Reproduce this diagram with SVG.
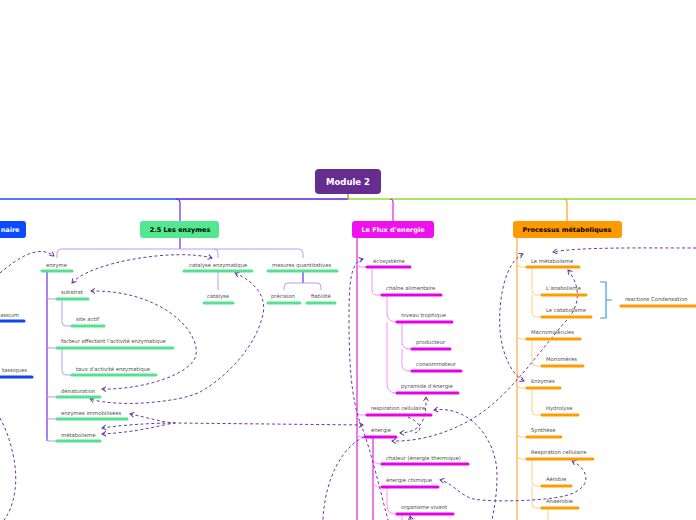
<svg xmlns="http://www.w3.org/2000/svg" width="696" height="520" viewBox="0 0 696 520">
<defs>
<marker id="arr" markerWidth="6" markerHeight="6" refX="4.5" refY="3" orient="auto-start-reverse" markerUnits="userSpaceOnUse">
<path d="M0.5,0.5 L4.5,3 L0.5,5.5" fill="none" stroke="#6a3a9e" stroke-width="1"/>
</marker>
<style>
.lbl{font-family:"DejaVu Sans",Verdana,sans-serif;font-size:5.3px;fill:#4d4d4d}
.nd{font-family:"DejaVu Sans",Verdana,sans-serif;font-size:6.5px;font-weight:bold}
.ug{stroke:#52e38f;stroke-width:3;stroke-linecap:round}
.um{stroke:#e800e8;stroke-width:3;stroke-linecap:round}
.uo{stroke:#ff9c00;stroke-width:3;stroke-linecap:round}
.ub{stroke:#0f45ee;stroke-width:3;stroke-linecap:round}
.lp{fill:none;stroke:#b99cf7;stroke-width:1}
.dp{fill:none;stroke:#7a3de6;stroke-width:1.3}
.lm{fill:none;stroke:#ff8cff;stroke-width:1}
.dm{fill:none;stroke:#e020e0;stroke-width:1.2}
.lo{fill:none;stroke:#ffcf85;stroke-width:1}
.do{fill:none;stroke:#ffac38;stroke-width:1.2}
.dash{fill:none;stroke:#6a3a9e;stroke-width:1;stroke-dasharray:3,2.5}
</style>
</defs>
<rect width="696" height="520" fill="#fff"/>

<g id="connectors">
<line x1="0" y1="199" x2="180" y2="199" stroke="#1a4bff" stroke-width="1.3"/>
<line x1="180" y1="199" x2="348" y2="199" stroke="#5a1ee0" stroke-width="1.3"/>
<line x1="348" y1="199" x2="696" y2="199" stroke="#88e030" stroke-width="1.3"/>
<line x1="348" y1="194" x2="348" y2="199" stroke="#a8a040" stroke-width="1.5"/>
<path d="M176,199 Q180,199 180,203 V221" fill="none" stroke="#6a2be6" stroke-width="1.2"/>
<path d="M390,199 Q393,199 393,202 V221" fill="none" stroke="#e020e0" stroke-width="1.2"/>
<path d="M564,199 Q567,199 567,202 V221" fill="none" stroke="#ffa020" stroke-width="1.2"/>

<path class="dp" d="M180,238 V249"/>
<path class="lp" d="M57,258 V253 Q57,249 61,249 H299 Q303,249 303,253 V258"/>
<path class="lp" d="M214,249 Q218,249 218,253 V258"/>
<path class="dp" d="M47,272 V441"/>
<path class="lp" d="M47,297 Q47,299 50,299 H56 M47,346 Q47,348 50,348 H56 M47,395 Q47,397 50,397 H56 M47,417 Q47,419 50,419 H56 M47,439 Q47,441 50,441 H56"/>
<path class="lp" d="M62,299 V322 Q62,326 66,326 H71 M62,348 V371 Q62,375 66,375 H71"/>
<path class="lp" d="M218,272 V290"/>
<path class="dp" d="M303,272 V283"/>
<path class="lp" d="M284,290 V287 Q284,283 288,283 H317 Q321,283 321,287 V290"/>

<path class="dm" d="M357,238 V520"/>
<path class="lm" d="M357,263 Q357,267 361,267 H366 M357,411 Q357,415 361,415 H366 M357,433 Q357,437 361,437 H366"/>
<path class="lm" d="M372,267 V290 Q372,295 377,295 H381"/>
<path class="lm" d="M387,295 V312 Q387,322 396,322 M387,322 V383 Q387,393 396,393"/>
<path class="lm" d="M402,322 V342 Q402,349 411,349 M402,349 V365 Q402,371 411,371"/>
<path class="dm" d="M373,437 V520"/>
<path class="lm" d="M373,458 Q373,464 381,464 M373,481 Q373,487 381,487"/>
<path class="lm" d="M387,487 V505 Q387,514 396,514"/>
<path class="lm" d="M402,514 V520"/>

<path class="do" d="M517,238 V520"/>
<path class="lo" d="M517,263 Q517,267 521,267 H526 M517,335 Q517,339 521,339 H526 M517,384 Q517,388 521,388 H526 M517,433 Q517,437 521,437 H526 M517,455 Q517,459 521,459 H526"/>
<path class="lo" d="M532,267 V291 Q532,295 536,295 H541 M532,295 V313 Q532,317 536,317 H541"/>
<path class="lo" d="M532,339 V362 Q532,366 536,366 H541"/>
<path class="lo" d="M532,388 V411 Q532,415 536,415 H541"/>
<path class="lo" d="M532,459 V482 Q532,486 536,486 H541 M532,486 V504 Q532,508 536,508 H541"/>
<path class="lo" d="M548,508 V520"/>
<path d="M600,282 H606 V318 H600 M606,300 H612" fill="none" stroke="#3c9cf0" stroke-width="1.2"/>

<path class="dash" d="M0,273 C18,258 38,244 54,256" marker-end="url(#arr)"/>
<path class="dash" d="M72,283 C90,262 175,248 212,258" marker-start="url(#arr)" marker-end="url(#arr)"/>
<path class="dash" d="M91,291 C160,290 200,330 196,355 C192,375 140,390 102,389" marker-start="url(#arr)" marker-end="url(#arr)"/>
<path class="dash" d="M235,273 C258,283 268,300 262,318 C255,345 230,375 200,392 C180,402 120,408 90,399" marker-start="url(#arr)" marker-end="url(#arr)"/>
<path class="dash" d="M130,414 C150,418 160,422 175,423 L363,425" marker-start="url(#arr)" marker-end="url(#arr)"/>
<path class="dash" d="M102,428 C130,424 160,423 175,423" marker-start="url(#arr)"/>
<path class="dash" d="M102,434 C140,432 160,425 175,423" marker-start="url(#arr)"/>
<path class="dash" d="M0,418 C12,440 18,470 15,490 C13,505 8,515 4,520"/>
<path class="dash" d="M363,259 C350,262 349,285 349,320 C349,380 354,410 363,430 C372,455 380,490 388,520" marker-start="url(#arr)"/>
<path class="dash" d="M364,437 C345,445 325,475 323,520"/>
<path class="dash" d="M426,397 C426,415 425,432 400,433" marker-start="url(#arr)" marker-end="url(#arr)"/>
<path class="dash" d="M408,417 C420,422 424,430 415,433"/>
<path class="dash" d="M434,410 C470,405 497,440 497,475 C497,495 494,510 492,520" marker-start="url(#arr)"/>
<path class="dash" d="M568,270 C580,285 582,305 565,322 C545,345 520,380 495,402 C470,425 430,442 392,441" marker-start="url(#arr)" marker-end="url(#arr)"/>
<path class="dash" d="M523,254 C505,262 498,300 500,330 C502,355 512,375 524,381" marker-start="url(#arr)" marker-end="url(#arr)"/>
<path class="dash" d="M696,248 C640,248 580,247 553,252" marker-end="url(#arr)"/>
<path class="dash" d="M572,461 C590,470 595,490 560,497 C530,502 480,502 470,498 C460,494 450,482 440,480" marker-start="url(#arr)" marker-end="url(#arr)"/>
<path class="dash" d="M411,520 L410,516" marker-end="url(#arr)"/>
</g>

<g id="module2"><rect x="315" y="169" width="66" height="25" rx="4" fill="#662d91"/><text x="348" y="185" text-anchor="middle" font-family="DejaVu Sans,sans-serif" font-size="8.5" font-weight="bold" fill="#fff">Module 2</text></g>

<g id="naire"><rect x="-20" y="221" width="46" height="17" rx="3" fill="#0a4bff"/><text class="nd" x="19.5" y="232" text-anchor="end" fill="#fff">naire</text></g>
<g id="assium"><text class="lbl" x="19" y="317" text-anchor="end">assium</text><line class="ub" x1="-2" y1="321" x2="24" y2="321"/></g>
<g id="tassiques"><text class="lbl" x="27" y="372" text-anchor="end">tassiques</text><line class="ub" x1="-2" y1="377" x2="32" y2="377"/></g>

<g id="enzymes"><rect x="140" y="221" width="79" height="17" rx="3" fill="#52e890"/><text class="nd" x="180" y="232" text-anchor="middle" fill="#000">2.5 Les enzymes</text></g>
<g id="enzyme"><text class="lbl" x="46" y="267">enzyme</text><line class="ug" x1="42" y1="271" x2="72" y2="271"/></g>
<g id="catalyse-enz"><text class="lbl" x="189" y="267">catalyse enzymatique</text><line class="ug" x1="184" y1="271" x2="252" y2="271"/></g>
<g id="mesures"><text class="lbl" x="272" y="267">mesures quantitatives</text><line class="ug" x1="268" y1="271" x2="337" y2="271"/></g>
<g id="catalyse"><text class="lbl" x="207" y="298">catalyse</text><line class="ug" x1="204" y1="303" x2="233" y2="303"/></g>
<g id="precision"><text class="lbl" x="271" y="298">précision</text><line class="ug" x1="268" y1="303" x2="300" y2="303"/></g>
<g id="fiabilite"><text class="lbl" x="311" y="298">fiabilité</text><line class="ug" x1="307" y1="303" x2="335" y2="303"/></g>
<g id="substrat"><text class="lbl" x="61" y="294">substrat</text><line class="ug" x1="57" y1="299" x2="88" y2="299"/></g>
<g id="site-actif"><text class="lbl" x="76" y="321">site actif</text><line class="ug" x1="72" y1="326" x2="104" y2="326"/></g>
<g id="facteur"><text class="lbl" x="61" y="343">facteur affectant l'activité enzymatique</text><line class="ug" x1="57" y1="348" x2="173" y2="348"/></g>
<g id="taux"><text class="lbl" x="76" y="371">taux d'activité enzymatique</text><line class="ug" x1="72" y1="375" x2="156" y2="375"/></g>
<g id="denaturation"><text class="lbl" x="61" y="393">dénaturation</text><line class="ug" x1="57" y1="397" x2="100" y2="397"/></g>
<g id="immobilisees"><text class="lbl" x="61" y="415">enzymes immobilisées</text><line class="ug" x1="57" y1="419" x2="127" y2="419"/></g>
<g id="metabolisme-e"><text class="lbl" x="61" y="437">métabolisme</text><line class="ug" x1="57" y1="441" x2="100" y2="441"/></g>

<g id="flux"><rect x="352" y="221" width="82" height="17" rx="3" fill="#ee11ee"/><text class="nd" x="393" y="232" text-anchor="middle" fill="#fff">Le Flux d'energie</text></g>
<g id="ecosysteme"><text class="lbl" x="373" y="263">écosystème</text><line class="um" x1="367" y1="267" x2="410" y2="267"/></g>
<g id="chaine"><text class="lbl" x="386" y="290">chaîne alimentaire</text><line class="um" x1="382" y1="295" x2="441" y2="295"/></g>
<g id="niveau"><text class="lbl" x="401" y="317">niveau trophique</text><line class="um" x1="397" y1="322" x2="452" y2="322"/></g>
<g id="producteur"><text class="lbl" x="416" y="344">producteur</text><line class="um" x1="412" y1="349" x2="450" y2="349"/></g>
<g id="consommateur"><text class="lbl" x="416" y="366">consommateur</text><line class="um" x1="412" y1="371" x2="461" y2="371"/></g>
<g id="pyramide"><text class="lbl" x="401" y="388">pyramide d'énergie</text><line class="um" x1="397" y1="393" x2="458" y2="393"/></g>
<g id="respiration-f"><text class="lbl" x="371" y="410">respiration cellulaire</text><line class="um" x1="367" y1="415" x2="431" y2="415"/></g>
<g id="energie"><text class="lbl" x="371" y="432">énergie</text><line class="um" x1="365" y1="437" x2="396" y2="437"/></g>
<g id="chaleur"><text class="lbl" x="386" y="460">chaleur (énergie thermique)</text><line class="um" x1="382" y1="464" x2="468" y2="464"/></g>
<g id="energie-chimique"><text class="lbl" x="386" y="482">énergie chimique</text><line class="um" x1="382" y1="487" x2="438" y2="487"/></g>
<g id="organisme"><text class="lbl" x="401" y="509">organisme vivant</text><line class="um" x1="397" y1="514" x2="453" y2="514"/></g>

<g id="processus"><rect x="513" y="221" width="109" height="17" rx="3" fill="#ff9900"/><text class="nd" x="567" y="232" text-anchor="middle" fill="#000">Processus métaboliques</text></g>
<g id="le-metabolisme"><text class="lbl" x="531" y="263">Le métabolisme</text><line class="uo" x1="527" y1="267" x2="579" y2="267"/></g>
<g id="anabolisme"><text class="lbl" x="546" y="290">L'anabolisme</text><line class="uo" x1="542" y1="295" x2="586" y2="295"/></g>
<g id="catabolisme"><text class="lbl" x="546" y="312">Le catabolisme</text><line class="uo" x1="542" y1="317" x2="591" y2="317"/></g>
<g id="condensation"><text class="lbl" x="625" y="301">reactions Condensation</text><line class="uo" x1="621" y1="306" x2="697" y2="306"/></g>
<g id="macromolecules"><text class="lbl" x="531" y="334">Macromolécules</text><line class="uo" x1="527" y1="339" x2="580" y2="339"/></g>
<g id="monomeres"><text class="lbl" x="546" y="361">Monomères</text><line class="uo" x1="542" y1="366" x2="583" y2="366"/></g>
<g id="enzymes-p"><text class="lbl" x="531" y="383">Enzymes</text><line class="uo" x1="527" y1="388" x2="560" y2="388"/></g>
<g id="hydrolyse"><text class="lbl" x="546" y="410">Hydrolyse</text><line class="uo" x1="542" y1="415" x2="578" y2="415"/></g>
<g id="synthese"><text class="lbl" x="531" y="432">Synthèse</text><line class="uo" x1="527" y1="437" x2="561" y2="437"/></g>
<g id="respiration-p"><text class="lbl" x="531" y="454">Respiration cellulaire</text><line class="uo" x1="527" y1="459" x2="593" y2="459"/></g>
<g id="aerobie"><text class="lbl" x="546" y="481">Aérobie</text><line class="uo" x1="542" y1="486" x2="571" y2="486"/></g>
<g id="anaerobie"><text class="lbl" x="546" y="503">Anaérobie</text><line class="uo" x1="542" y1="508" x2="578" y2="508"/></g>
</svg>
